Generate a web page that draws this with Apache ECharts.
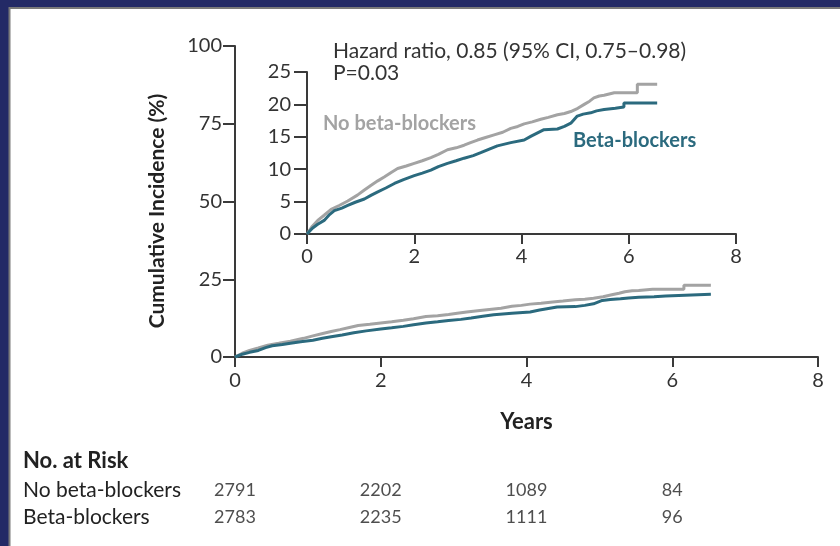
<!DOCTYPE html>
<html><head><meta charset="utf-8">
<script src="https://cdn.jsdelivr.net/npm/echarts@6/dist/echarts.min.js"></script>
<style>html,body{margin:0;padding:0;background:#232a66;}#c{width:840px;height:546px;}</style>
</head><body><div id="c"></div>
<script>
// ---- data ----
var xTicks = [0, 2, 4, 6, 8];
var timeNo = [0,0.1,0.2,0.32,0.45,0.6,0.76,0.94,1.07,1.19,1.32,1.44,1.57,1.69,1.85,2.0,2.15,2.31,2.45,2.62,2.78,2.93,3.05,3.18,3.33,3.49,3.65,3.80,3.93,4.05,4.2,4.36,4.5,4.67,4.8,4.92,5.05,5.17,5.27,5.35,5.45,5.54,5.73,6.16,6.16,6.53];
var incNo  = [0,1.2,2.1,2.9,3.8,4.4,5.1,6.0,6.8,7.5,8.2,8.8,9.5,10.1,10.5,10.9,11.3,11.8,12.3,13.0,13.3,13.7,14.1,14.5,14.9,15.3,15.7,16.3,16.6,17.0,17.3,17.7,18.0,18.4,18.6,18.9,19.4,20.0,20.5,21.0,21.3,21.4,21.8,21.8,23.1,23.1];
var timeBeta = [0,0.1,0.2,0.32,0.42,0.51,0.65,0.76,0.9,1.07,1.2,1.32,1.47,1.63,1.8,2.0,2.15,2.31,2.45,2.62,2.78,2.93,3.1,3.24,3.4,3.55,3.8,4.05,4.18,4.30,4.42,4.67,4.8,4.92,5.04,5.15,5.29,5.4,5.54,5.75,5.91,5.91,6.53];
var incBeta  = [0,0.9,1.5,2.1,3.0,3.6,4.0,4.4,4.9,5.4,6.0,6.5,7.1,7.8,8.4,9.0,9.4,9.85,10.4,10.9,11.3,11.7,12.1,12.55,13.1,13.6,14.1,14.5,15.1,15.6,16.1,16.2,16.6,17.1,18.2,18.5,18.7,19.0,19.2,19.4,19.6,20.2,20.2];
var riskYears = [0, 2, 4, 6];
var riskGroups = ['No beta-blockers', 'Beta-blockers'];
var riskNo = [2791, 2202, 1089, 84];
var riskBeta = [2783, 2235, 1111, 96];

function zip(a, b) { return a.map(function (v, i) { return [v, b[i]]; }); }
var riskData = [];
riskYears.forEach(function (y, i) { riskData.push([y, 0, riskNo[i]]); riskData.push([y, 1, riskBeta[i]]); });

var FONT = 'Lato';
var AX = '#3a3a3a';
var GRAY = '#a3a3a3';
var TEAL = '#2b6a7e';

var chart = echarts.init(document.getElementById('c'), null, {renderer: 'canvas'});

function xAxisCfg(gi, size, margin, tickLen) {
  return {
    type: 'value', gridIndex: gi, min: 0, max: 8, interval: 2,
    axisLine: {show: true, onZero: false, lineStyle: {color: AX, width: 2}},
    axisTick: {show: true, length: tickLen, lineStyle: {color: AX, width: 2}},
    axisLabel: {color: '#333', fontFamily: FONT, fontSize: size, margin: margin},
    splitLine: {show: false}
  };
}
function yAxisCfg(gi, max, interval, size, tickLen, margin) {
  return {
    type: 'value', gridIndex: gi, min: 0, max: max, interval: interval,
    axisLine: {show: true, onZero: false, lineStyle: {color: AX, width: 2}},
    axisTick: {show: true, length: tickLen, lineStyle: {color: AX, width: 2}},
    axisLabel: {color: '#333', fontFamily: FONT, fontSize: size, margin: margin},
    splitLine: {show: false}
  };
}

var option = {
  backgroundColor: '#232a66',
  animation: false,
  graphic: [
    {type: 'rect', z: -10, shape: {x: 9.5, y: 8, width: 840, height: 546}, style: {fill: '#ffffff', stroke: '#7a7a7a', lineWidth: 2}},
    {type: 'text', x: 157, y: 211, rotation: Math.PI / 2, style: {text: 'Cumulative Incidence (%)', fill: '#222', font: 'bold 21px ' + FONT, textAlign: 'center', textVerticalAlign: 'middle'}},
    {type: 'text', left: 333, top: 41, style: {text: 'Hazard ratio, 0.85 (95% CI, 0.75\u20130.98)', fill: '#333', font: '21px ' + FONT}},
    {type: 'text', left: 333, top: 63, style: {text: 'P=0.03', fill: '#333', font: '21px ' + FONT}},
    {type: 'text', left: 323, top: 114, style: {text: 'No beta-blockers', fill: GRAY, font: 'bold 20px ' + FONT}},
    {type: 'text', left: 573, top: 131, style: {text: 'Beta-blockers', fill: TEAL, font: 'bold 20px ' + FONT}},
    {type: 'text', left: 23, top: 450, style: {text: 'No. at Risk', fill: '#222', font: 'bold 22px ' + FONT}}
  ],
  grid: [
    {left: 235, right: 22, top: 46, bottom: 189},
    {left: 307, right: 104, top: 72, bottom: 312},
    {left: 235, right: 22, top: 477, height: 54}
  ],
  xAxis: [
    Object.assign(xAxisCfg(0, 20, 14, 10), {
      name: 'Years', nameLocation: 'middle', nameGap: 54,
      nameTextStyle: {fontFamily: FONT, fontSize: 22, fontWeight: 'bold', color: '#222'}
    }),
    xAxisCfg(1, 20, 13, 10),
    {type: 'value', gridIndex: 2, min: 0, max: 8, interval: 2, show: false}
  ],
  yAxis: [
    yAxisCfg(0, 100, 25, 20, 12, 13),
    yAxisCfg(1, 25, 5, 20, 13, 16),
    {type: 'category', gridIndex: 2, data: riskGroups, inverse: true,
      axisLine: {show: false}, axisTick: {show: false}, splitLine: {show: false},
      axisLabel: {show: true, interval: 0, hideOverlap: false, align: 'left', margin: 212, color: '#222', fontFamily: FONT, fontSize: 21}}
  ],
  series: [
    {type: 'line', xAxisIndex: 0, yAxisIndex: 0, data: zip(timeNo, incNo), showSymbol: false, lineStyle: {color: GRAY, width: 3}, z: 3},
    {type: 'line', xAxisIndex: 0, yAxisIndex: 0, data: zip(timeBeta, incBeta), showSymbol: false, lineStyle: {color: TEAL, width: 3}, z: 4},
    {type: 'line', xAxisIndex: 1, yAxisIndex: 1, data: zip(timeNo, incNo), showSymbol: false, lineStyle: {color: GRAY, width: 3}, z: 3},
    {type: 'line', xAxisIndex: 1, yAxisIndex: 1, data: zip(timeBeta, incBeta), showSymbol: false, lineStyle: {color: TEAL, width: 3}, z: 4},
    {type: 'scatter', xAxisIndex: 2, yAxisIndex: 2, data: riskData, symbolSize: 0, silent: true,
      label: {show: true, position: 'inside', formatter: function (p) { return p.value[2]; }, color: '#222', fontFamily: FONT, fontSize: 18}}
  ]
};
chart.setOption(option);
</script></body></html>
